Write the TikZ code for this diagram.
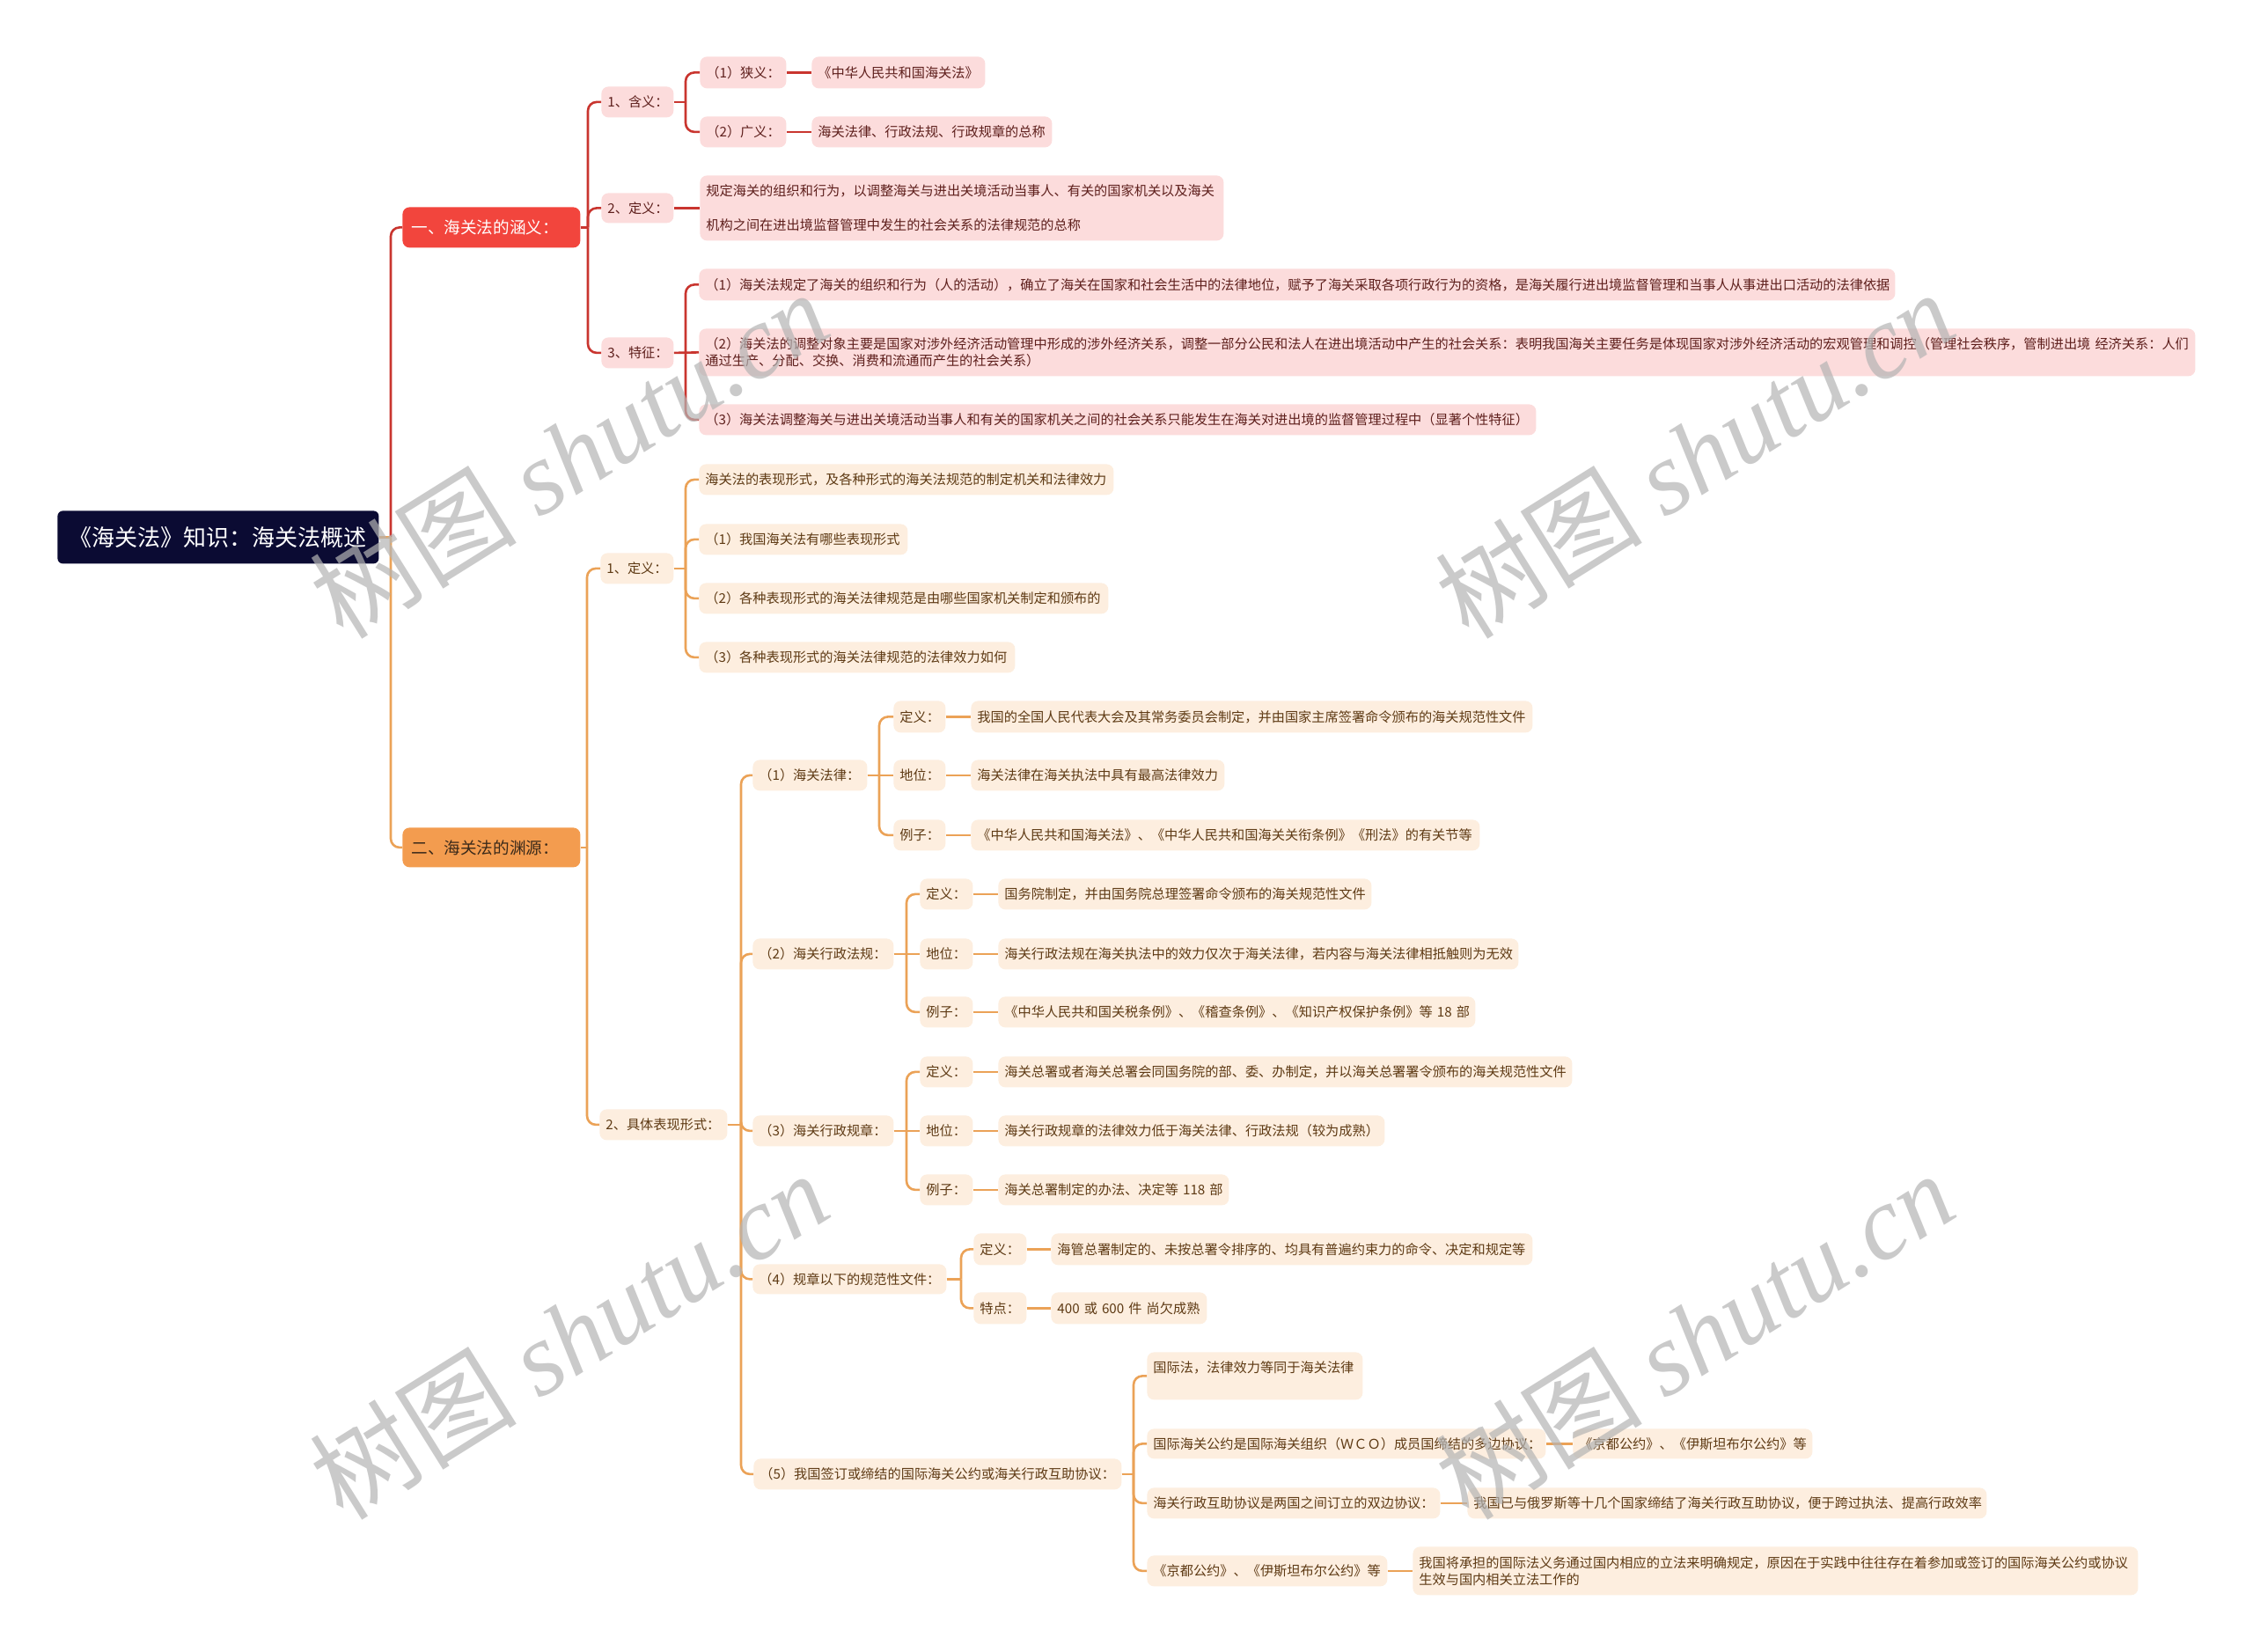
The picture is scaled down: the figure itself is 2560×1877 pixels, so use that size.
\documentclass[tikz,border=0pt]{standalone}
\usepackage{fontspec}
\newfontfamily\cjk{Noto Sans CJK SC}
\newfontfamily\wmserif{Liberation Serif}
\definecolor{rootc}{HTML}{0B0B33}
\definecolor{redA}{HTML}{F2453D}
\definecolor{oraB}{HTML}{F39C4F}
\definecolor{rfill}{HTML}{FCDCDC}
\definecolor{rtext}{HTML}{5E1F1C}
\definecolor{ofill}{HTML}{FDEEDF}
\definecolor{otext}{HTML}{5E3A14}
\definecolor{btext}{HTML}{3B2A1A}
\definecolor{rline}{HTML}{C9352F}
\definecolor{oline}{HTML}{EBA257}
\definecolor{wmc}{HTML}{B4B4B4}
\newcommand\bx[7]{%
  \pgfmathsetmacro\bxw{(#5-#3)*0.5-7}%
  \pgfmathsetmacro\bxh{(#6-#4)*0.5}%
  \node[#1, anchor=north west, text width=\bxw pt, minimum height=\bxh pt] (#2) at (#3,#4) {#7};}
\newcommand\br[4]{%
  \draw[#1] (#2.east) -- (#2.east -| #3);
  \draw[#1, rounded corners=5pt] (#2.east -| #3) |- (#4.west);}
\newcommand\st[3]{\draw[#1] (#2.east) -- (#3.west);}
\begin{document}
\begin{tikzpicture}[x=0.5pt,y=-0.5pt,
  nd/.style={rounded corners=4pt, inner xsep=3.5pt, inner ysep=1pt, align=left,
    font=\cjk\fontsize{7.6pt}{9.5pt}\selectfont},
  rn/.style={nd, fill=rfill, text=rtext},
  on/.style={nd, fill=ofill, text=otext},
  rootn/.style={nd, fill=rootc, text=white, align=center, rounded corners=3pt,
    font=\cjk\fontsize{13pt}{15pt}\selectfont},
  lvA/.style={nd, fill=redA, text=white, inner xsep=5pt, rounded corners=4pt,
    font=\cjk\fontsize{9.3pt}{11pt}\selectfont},
  lvB/.style={nd, fill=oraB, text=btext, inner xsep=5pt, rounded corners=4pt,
    font=\cjk\fontsize{9.3pt}{11pt}\selectfont},
  rl/.style={draw=rline, line width=1.3pt},
  ol/.style={draw=oline, line width=1.3pt},
  wm/.style={text=wmc, text opacity=0.7, inner sep=0pt,
    font=\cjk\fontsize{59pt}{64pt}\selectfont}
]
\fill[white] (0,0) rectangle (2560,1877);
\useasboundingbox (0,0) rectangle (2560,1877);

% spine coordinates
\coordinate (sR) at (444,0);
\coordinate (sA) at (668,0);
\coordinate (sB) at (667,0);
\coordinate (sA1) at (779,0);
\coordinate (sA3) at (779,0);
\coordinate (sB1) at (779,0);
\coordinate (sB2) at (842,0);
\coordinate (sC1) at (999,0);
\coordinate (sC2) at (1030,0);
\coordinate (sC3) at (1030,0);
\coordinate (sC4) at (1092,0);
\coordinate (sC5) at (1288,0);

% root and level 1
\bx{rootn}{R}{65}{580}{430}{640}{《海关法》知识：海关法概述}
\bx{lvA}{A}{457}{235}{653}{281}{一、海关法的涵义：}
\bx{lvB}{B}{457}{940}{653}{985}{二、海关法的渊源：}

% red branch
\bx{rn}{A1}{683}{98}{765}{133}{1、含义：}
\bx{rn}{A11}{795}{64}{893}{100}{（1）狭义：}
\bx{rn}{A11L}{922}{64}{1119}{100}{《中华人民共和国海关法》}
\bx{rn}{A12}{795}{132}{893}{167}{（2）广义：}
\bx{rn}{A12L}{922}{132}{1195}{167}{海关法律、行政法规、行政规章的总称}
\bx{rn}{A2}{683}{219}{765}{253}{2、定义：}
\bx{rn}{A2L}{795}{199}{1390}{273}{规定海关的组织和行为，以调整海关与进出关境活动当事人、有关的国家机关以及海关\\[10pt]机构之间在进出境监督管理中发生的社会关系的法律规范的总称}
\bx{rn}{A3}{683}{383}{765}{418}{3、特征：}
\bx{rn}{A31}{794}{305}{2153}{341}{（1）海关法规定了海关的组织和行为（人的活动），确立了海关在国家和社会生活中的法律地位，赋予了海关采取各项行政行为的资格，是海关履行进出境监督管理和当事人从事进出口活动的法律依据}
\bx{rn}{A32}{794}{373}{2494}{427}{（2）海关法的调整对象主要是国家对涉外经济活动管理中形成的涉外经济关系，调整一部分公民和法人在进出境活动中产生的社会关系：表明我国海关主要任务是体现国家对涉外经济活动的宏观管理和调控（管理社会秩序，管制进出境~经济关系：人们\\通过生产、分配、交换、消费和流通而产生的社会关系）}
\bx{rn}{A33}{794}{459}{1745}{494}{（3）海关法调整海关与进出关境活动当事人和有关的国家机关之间的社会关系只能发生在海关对进出境的监督管理过程中（显著个性特征）}

% orange branch
\bx{on}{B1}{682}{628}{765}{663}{1、定义：}
\bx{on}{B11}{794}{527}{1265}{562}{海关法的表现形式，及各种形式的海关法规范的制定机关和法律效力}
\bx{on}{B12}{794}{595}{1031}{630}{（1）我国海关法有哪些表现形式}
\bx{on}{B13}{794}{662}{1259}{697}{（2）各种表现形式的海关法律规范是由哪些国家机关制定和颁布的}
\bx{on}{B14}{794}{729}{1153}{764}{（3）各种表现形式的海关法律规范的法律效力如何}
\bx{on}{B2}{681}{1260}{826}{1295}{2、具体表现形式：}

\bx{on}{C1}{855}{863}{985}{898}{（1）海关法律：}
\bx{on}{C11}{1015}{796}{1074}{832}{定义：}
\bx{on}{C11L}{1103}{796}{1741}{832}{我国的全国人民代表大会及其常务委员会制定，并由国家主席签署命令颁布的海关规范性文件}
\bx{on}{C12}{1015}{863}{1074}{898}{地位：}
\bx{on}{C12L}{1103}{863}{1391}{898}{海关法律在海关执法中具有最高法律效力}
\bx{on}{C13}{1015}{931}{1074}{966}{例子：}
\bx{on}{C13L}{1103}{931}{1681}{966}{《中华人民共和国海关法》、《中华人民共和国海关关衔条例》《刑法》的有关节等}

\bx{on}{C2}{855}{1066}{1015}{1101}{（2）海关行政法规：}
\bx{on}{C21}{1045}{998}{1105}{1033}{定义：}
\bx{on}{C21L}{1134}{998}{1558}{1033}{国务院制定，并由国务院总理签署命令颁布的海关规范性文件}
\bx{on}{C22}{1045}{1066}{1105}{1101}{地位：}
\bx{on}{C22L}{1134}{1066}{1725}{1101}{海关行政法规在海关执法中的效力仅次于海关法律，若内容与海关法律相抵触则为无效}
\bx{on}{C23}{1045}{1132}{1105}{1167}{例子：}
\bx{on}{C23L}{1134}{1132}{1676}{1167}{《中华人民共和国关税条例》、《稽查条例》、《知识产权保护条例》等~18~部}

\bx{on}{C3}{855}{1267}{1015}{1302}{（3）海关行政规章：}
\bx{on}{C31}{1045}{1200}{1105}{1235}{定义：}
\bx{on}{C31L}{1134}{1200}{1786}{1235}{海关总署或者海关总署会同国务院的部、委、办制定，并以海关总署署令颁布的海关规范性文件}
\bx{on}{C32}{1045}{1267}{1105}{1302}{地位：}
\bx{on}{C32L}{1134}{1267}{1573}{1302}{海关行政规章的法律效力低于海关法律、行政法规（较为成熟）}
\bx{on}{C33}{1045}{1334}{1105}{1369}{例子：}
\bx{on}{C33L}{1134}{1334}{1396}{1369}{海关总署制定的办法、决定等~118~部}

\bx{on}{C4}{855}{1436}{1075}{1470}{（4）规章以下的规范性文件：}
\bx{on}{C41}{1106}{1401}{1166}{1437}{定义：}
\bx{on}{C41L}{1194}{1401}{1741}{1437}{海管总署制定的、未按总署令排序的、均具有普遍约束力的命令、决定和规定等}
\bx{on}{C42}{1106}{1468}{1166}{1504}{特点：}
\bx{on}{C42L}{1194}{1468}{1371}{1504}{400~或~600~件~尚欠成熟}

\bx{on}{C5}{856}{1657}{1274}{1692}{（5）我国签订或缔结的国际海关公约或海关行政互助协议：}
\bx{on, text height=10.4pt, text depth=14.6pt}{C51}{1303}{1536}{1548}{1590}{国际法，法律效力等同于海关法律}
\bx{on}{C52}{1303}{1623}{1756}{1657}{国际海关公约是国际海关组织（ＷＣＯ）成员国缔结的多边协议：}
\bx{on}{C52L}{1787}{1623}{2059}{1657}{《京都公约》、《伊斯坦布尔公约》等}
\bx{on}{C53}{1303}{1690}{1636}{1725}{海关行政互助协议是两国之间订立的双边协议：}
\bx{on}{C53L}{1667}{1690}{2257}{1725}{我国已与俄罗斯等十几个国家缔结了海关行政互助协议，便于跨过执法、提高行政效率}
\bx{on}{C54}{1303}{1767}{1576}{1802}{《京都公约》、《伊斯坦布尔公约》等}
\bx{on}{C54L}{1605}{1757}{2429}{1812}{我国将承担的国际法义务通过国内相应的立法来明确规定，原因在于实践中往往存在着参加或签订的国际海关公约或协议\\生效与国内相关立法工作的}

% connectors: root
\draw[rl, rounded corners=5pt] (R.east -| sR) |- (A.west);
\br{ol}{R}{sR}{B}

% red
\br{rl}{A}{sA}{A1}
\br{rl}{A}{sA}{A2}
\br{rl}{A}{sA}{A3}
\br{rl}{A1}{sA1}{A11}
\br{rl}{A1}{sA1}{A12}
\st{rl}{A11}{A11L}
\st{rl}{A12}{A12L}
\st{rl}{A2}{A2L}
\br{rl}{A3}{sA3}{A31}
\st{rl}{A3}{A32}
\br{rl}{A3}{sA3}{A33}

% orange
\br{ol}{B}{sB}{B1}
\br{ol}{B}{sB}{B2}
\br{ol}{B1}{sB1}{B11}
\br{ol}{B1}{sB1}{B12}
\br{ol}{B1}{sB1}{B13}
\br{ol}{B1}{sB1}{B14}
\br{ol}{B2}{sB2}{C1}
\br{ol}{B2}{sB2}{C2}
\br{ol}{B2}{sB2}{C3}
\br{ol}{B2}{sB2}{C4}
\br{ol}{B2}{sB2}{C5}

\br{ol}{C1}{sC1}{C11}
\st{ol}{C1}{C12}
\br{ol}{C1}{sC1}{C13}
\st{ol}{C11}{C11L}
\st{ol}{C12}{C12L}
\st{ol}{C13}{C13L}

\br{ol}{C2}{sC2}{C21}
\st{ol}{C2}{C22}
\br{ol}{C2}{sC2}{C23}
\st{ol}{C21}{C21L}
\st{ol}{C22}{C22L}
\st{ol}{C23}{C23L}

\br{ol}{C3}{sC3}{C31}
\st{ol}{C3}{C32}
\br{ol}{C3}{sC3}{C33}
\st{ol}{C31}{C31L}
\st{ol}{C32}{C32L}
\st{ol}{C33}{C33L}

\br{ol}{C4}{sC4}{C41}
\br{ol}{C4}{sC4}{C42}
\st{ol}{C41}{C41L}
\st{ol}{C42}{C42L}

\br{ol}{C5}{sC5}{C51}
\br{ol}{C5}{sC5}{C52}
\br{ol}{C5}{sC5}{C53}
\br{ol}{C5}{sC5}{C54}
\st{ol}{C52}{C52L}
\st{ol}{C53}{C53L}
\st{ol}{C54}{C54L}

% watermarks
\node[wm, rotate=32] (W1) at (646,516) {树图 {\wmserif\itshape shutu.cn}};
\node[wm, rotate=32] (W2) at (1925,516) {树图 {\wmserif\itshape shutu.cn}};
\node[wm, rotate=32] (W3) at (646,1517) {树图 {\wmserif\itshape shutu.cn}};
\node[wm, rotate=32] (W4) at (1925,1517) {树图 {\wmserif\itshape shutu.cn}};
\end{tikzpicture}
\end{document}
